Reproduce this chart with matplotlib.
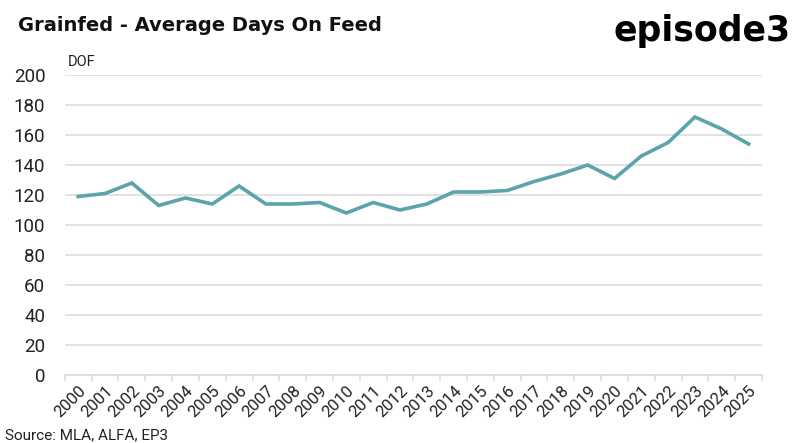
import numpy as np
import matplotlib
matplotlib.use("Agg")
import matplotlib.pyplot as plt

# Data
years = [str(y) for y in range(2000, 2026)]
dof = [119, 121, 128, 113, 118, 114, 126, 114, 114, 115, 108, 115, 110, 114,
       122, 122, 123, 129, 134, 140, 131, 146, 155, 172, 164, 154]
yticks = [0, 20, 40, 60, 80, 100, 120, 140, 160, 180, 200]

line_color = "#5BA4AA"
grid_color = "#DDDDDD"
plt.rcParams['font.family'] = ['Roboto', 'DejaVu Sans']

fig = plt.figure(figsize=(8, 4.43), dpi=100)
ax = fig.add_axes([0.081, 0.1535, 0.8715, 0.6772])

x = np.arange(len(years))
ax.plot(x, dof, color=line_color, linewidth=2.6, solid_joinstyle="miter")

ax.set_xlim(-0.5, len(years) - 0.5)
ax.set_ylim(0, 200)
ax.set_yticks(yticks)
ax.set_yticklabels([str(v) for v in yticks], fontsize=13.5, color="#222222")
ax.yaxis.grid(True, color=grid_color, linewidth=1.2)
ax.set_axisbelow(True)
ax.tick_params(axis="y", length=0, pad=14)

ax.set_xticks(x)
ax.set_xticklabels(years, rotation=45, ha="right", rotation_mode="anchor",
                   fontsize=12, color="#222222")
ax.set_xticks(np.arange(-0.5, len(years)), minor=True)
ax.tick_params(axis="x", which="major", length=0, pad=6)
ax.tick_params(axis="x", which="minor", length=4, color=grid_color, width=1.2)

for s in ["top", "right", "left"]:
    ax.spines[s].set_visible(False)
ax.spines["bottom"].set_color(grid_color)
ax.spines["bottom"].set_linewidth(1.2)

fig.text(0.022, 0.942, "Grainfed - Average Days On Feed", fontsize=14,
         fontweight="bold", family=["DejaVu Sans"], va="center", color="#111111")
fig.text(0.988, 0.93, "episode3", fontsize=25, fontweight="bold",
         family=["DejaVu Sans"], ha="right", va="center", color="#000000")
fig.text(0.085, 0.86, "DOF", fontsize=10.5, va="center", color="#222222")
fig.text(0.006, 0.018, "Source: MLA, ALFA, EP3", fontsize=11, va="center", color="#222222")

fig.savefig("out.png", dpi=100)
